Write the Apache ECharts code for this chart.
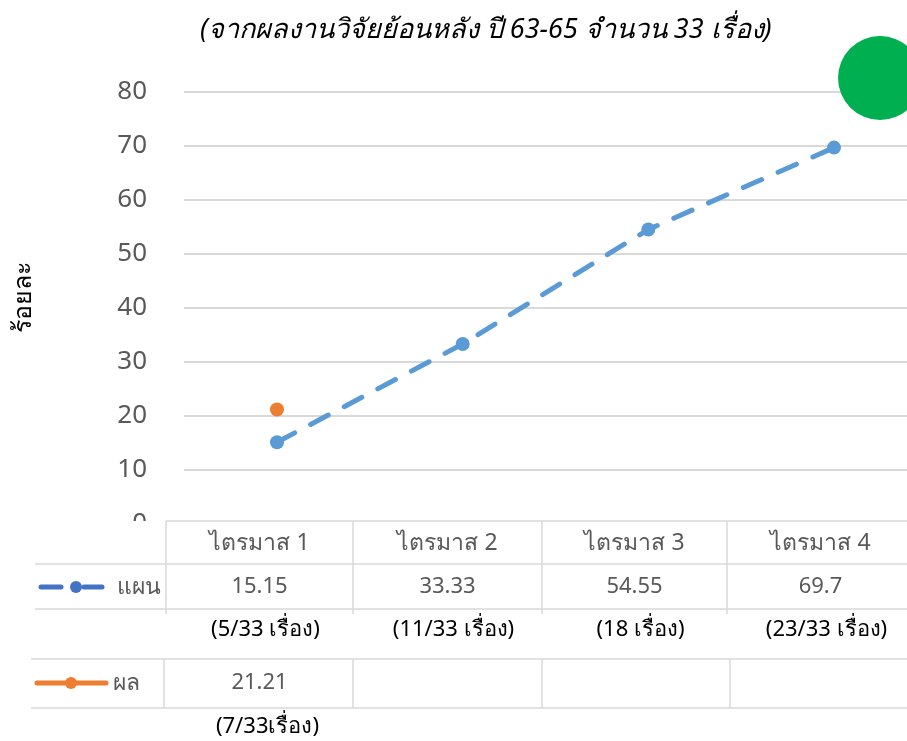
<!DOCTYPE html>
<html><head><meta charset="utf-8">
<script src="https://cdn.jsdelivr.net/npm/echarts@6/dist/echarts.min.js"></script>
<style>html,body{margin:0;padding:0;background:#fff}#c{width:907px;height:741px}</style>
</head><body><div id="c"></div>
<script>
// ---- data ----
const titleText = '(จากผลงานวิจัยย้อนหลัง ปี 63-65 จำนวน 33 เรื่อง)';
const yName = 'ร้อยละ';
const categories = ['ไตรมาส 1', 'ไตรมาส 2', 'ไตรมาส 3', 'ไตรมาส 4'];
const planName = 'แผน';
const planValues = [15.15, 33.33, 54.55, 69.7];
const planNotes = ['(5/33 เรื่อง)', '(11/33 เรื่อง)', '(18 เรื่อง)', '(23/33 เรื่อง)'];
const actualName = 'ผล';
const actualValues = [21.21, null, null, null];
const actualNotes = ['(7/33เรื่อง)', '', '', ''];
const yMin = 0, yMax = 80, yInterval = 10;

// ---- layout / style ----
const FONT = 'Tahoma, "Noto Sans", "DejaVu Sans", sans-serif';
const GRAY = '#595959';
const LINEC = '#d9d9d9';
const BLUE = '#5B9BD5';
const ORANGE = '#ED7D31';
const colX = [166, 353, 542, 727, 914];

const chart = echarts.init(document.getElementById('c'), null, {renderer: 'canvas'});

const g = [];
function hline(x1, x2, y) { g.push({type: 'line', z: 101, shape: {x1, y1: y, x2, y2: y}, style: {stroke: LINEC, lineWidth: 1.5}}); }
function vline(x, y1, y2) { g.push({type: 'line', z: 101, shape: {x1: x, y1, x2: x, y2}, style: {stroke: LINEC, lineWidth: 1.5}}); }
function txt(t, x, y, color, size, align) {
  g.push({type: 'text', z: 102, x, y, style: {text: t, fill: color, font: size + 'px ' + FONT, align: align || 'center', verticalAlign: 'middle'}});
}
// white backing covering the lower part of the plot region
g.push({type: 'rect', z: 100, shape: {x: 0, y: 521, width: 907, height: 220}, style: {fill: '#fff'}});
hline(166, 907, 521);
hline(35, 907, 564);
hline(35, 907, 609);
hline(31, 907, 659);
hline(31, 907, 708);
for (let i = 0; i < 4; i++) { vline(colX[i], 521, 614); vline(colX[i] + (i === 0 ? -2 : (i === 3 ? 3 : 0)), 659, 708); }
categories.forEach((c, i) => {
  const cx = (colX[i] + colX[i + 1]) / 2;
  txt(c, cx, 543, GRAY, 23);
  txt(String(planValues[i]), cx, 587, GRAY, 22);
  txt(planNotes[i], cx + 6, 630, '#000', 22);
  if (actualValues[i] != null) txt(String(actualValues[i]), cx, 683, GRAY, 22);
  if (actualNotes[i]) txt(actualNotes[i], cx + 8, 727, '#000', 22);
});
// legend keys
g.push({type: 'line', z: 102, shape: {x1: 41, y1: 587, x2: 61, y2: 587}, style: {stroke: '#4472C4', lineWidth: 5, lineCap: 'round'}});
g.push({type: 'line', z: 102, shape: {x1: 84, y1: 587, x2: 102, y2: 587}, style: {stroke: '#4472C4', lineWidth: 5, lineCap: 'round'}});
g.push({type: 'circle', z: 102, shape: {cx: 76, cy: 587, r: 6}, style: {fill: '#4472C4'}});
txt(planName, 117, 587, GRAY, 23, 'left');
g.push({type: 'line', z: 102, shape: {x1: 37, y1: 683, x2: 106, y2: 683}, style: {stroke: ORANGE, lineWidth: 5, lineCap: 'round'}});
g.push({type: 'circle', z: 102, shape: {cx: 71, cy: 683, r: 6}, style: {fill: ORANGE}});
txt(actualName, 113, 683, GRAY, 23, 'left');
// y axis name
g.push({type: 'text', z: 102, x: 24, y: 297, rotation: Math.PI / 2,
  style: {text: yName, fill: '#000', font: '25px ' + FONT, align: 'center', verticalAlign: 'middle'}});
// decorative green circle
g.push({type: 'circle', z: 50, shape: {cx: 880, cy: 78, r: 42}, style: {fill: '#00B050'}});

chart.setOption({
  animation: false,
  backgroundColor: '#fff',
  title: {text: titleText, left: 195, top: 12,
    textStyle: {fontFamily: FONT, fontStyle: 'italic', fontWeight: 'normal', fontSize: 27, color: '#000'}},
  grid: [
    {left: 184, top: 92, right: 0, height: 432, containLabel: false},
    {left: 277, top: 92, width: 557, height: 432, containLabel: false}
  ],
  xAxis: [
    {type: 'category', gridIndex: 0, data: categories, show: false},
    {type: 'category', gridIndex: 1, data: categories, boundaryGap: false, show: false}
  ],
  yAxis: [
    {type: 'value', gridIndex: 0, min: yMin, max: yMax, interval: yInterval,
      axisLine: {show: false}, axisTick: {show: false},
      axisLabel: {color: GRAY, fontSize: 26, fontFamily: FONT, margin: 37},
      splitLine: {lineStyle: {color: LINEC, width: 2}}},
    {type: 'value', gridIndex: 1, min: yMin, max: yMax, interval: yInterval, show: false,
      splitLine: {show: false}}
  ],
  series: [
    {name: planName, type: 'line', xAxisIndex: 1, yAxisIndex: 1, data: planValues, z: 3,
      symbol: 'circle', symbolSize: 14, itemStyle: {color: BLUE},
      lineStyle: {color: BLUE, width: 5, type: [20, 18], cap: 'round'}},
    {name: actualName, type: 'line', xAxisIndex: 1, yAxisIndex: 1, data: actualValues, z: 4,
      symbol: 'circle', symbolSize: 14, itemStyle: {color: ORANGE},
      lineStyle: {color: ORANGE, width: 5}}
  ],
  graphic: {elements: g}
});
</script></body></html>
